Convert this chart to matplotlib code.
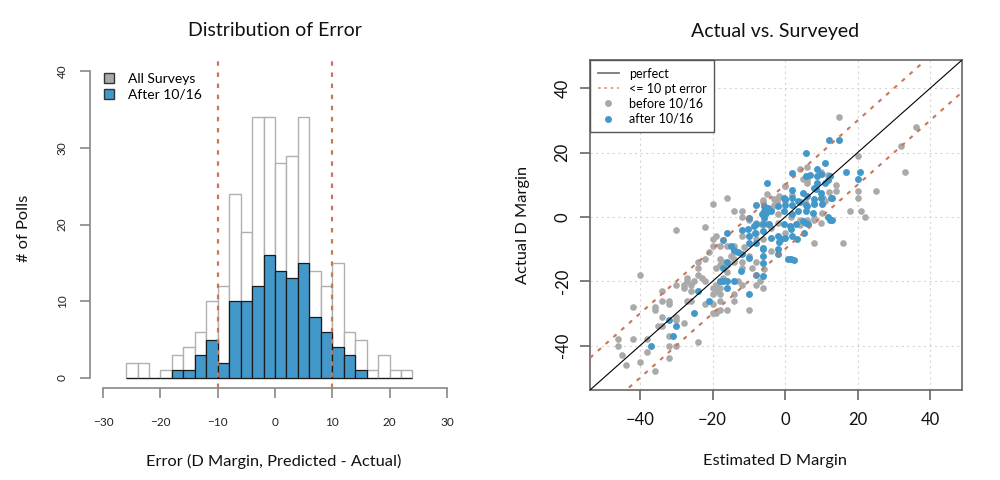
import matplotlib
matplotlib.use("Agg")
import matplotlib.pyplot as plt
import numpy as np
from matplotlib.patches import Patch
from matplotlib.lines import Line2D

plt.rcParams['font.family'] = ['Lato', 'DejaVu Sans']

# ---------------- data ----------------
bin_edges = list(range(-26, 25, 2))
all_counts = [2, 2, 0, 1, 3, 4, 6, 10, 12, 24, 19, 34, 34, 28, 29, 34, 14, 12, 15, 6, 5, 1, 3, 1, 1]
after_counts = [0, 0, 0, 0, 1, 1, 3, 5, 2, 10, 10, 12, 16, 14, 13, 15, 8, 6, 4, 3, 1, 0, 0, 0, 0]

before_x = [-46, -46, -45, -44, -42, -40, -38, -38, -36, -42, -40, -36, -36, -34, -34, -32, -32, -34, -30, -30,
            -35, -34, -32, -32, -30, -32, -28, -24, -30, -28, -28, -27, -27, -26, -26, -27, -26, -30, -24, -24,
            -23, -22, -25, -22, -20, -19, -20, -19, -18, -19, -18, -19, -17, -20, -22, -16, -14, -12, -12, -18,
            -19, -20, -21, -22, -24, -20, -15, -14, -14, -12, -18, -16, -20, -20, -18, -18, -14, -14, -16, -17,
            -16, -13, -12, -10, -10, -14, -14, -16, -12, -10, -10, -12, -18,
            -8, -8, -6, -8, -8, -6, -6, -4, -2, -2, 0, 2, 4, 4, 6, 8, 8, 4, 6, 5,
            6, 10.3, 14, 14, 10.5, 0, 5.6, 10.3, -2, -2.3, -5, -6, -3, -8, 8, 10, -6.5, -5.7, -10, -11.3,
            0, -4, -5, -4, -1.8, -3, 1.5, -9, -7,
            15, 36, 32, 33, 20, 20, 20, 25, 18, 21, 22, 16, 8, 11.8, 10, 12, 0, 6.1, 10.9, 4]
before_y = [-38, -40, -43, -46, -38, -45, -38, -42, -48, -28, -18, -28, -29, -23, -26, -26, -27, -31, -31, -32,
            -34, -34, -37, -40, -40, -44, -33, -39, -21, -21, -22, -19, -20, -21, -23, -26, -26, -4, -14, -16,
            -19, -20, -20, -27, -24, -23, -30, -30, -29, -21, -22, -16, -14, 4, -3, 6, 2, 2, 0, -9,
            -6, -9, -11, -13, -18, -7, -12, -13, -14, -16, -15, -15, -22, -27, -26, -24, -26, -24, -29, -19,
            -17, -20, -21, -29, -12, -11, -9, -9, -6, -6, -1, -14, -13,
            -14, -21, -22, -5, -7, -7, 4.5, 2.5, -2, 1, 5, 6.8, -1, -2.5, -1, -0.4, 4.3, 15, 15.4, 11.7,
            10.7, 13.5, 10, 8, 6, 9.7, 5, 1.3, 6, 4.5, 7, 5.2, 3.7, -2, -1, -2, -2.3, -16.3, -0.2, -9.2,
            -4.9, -3.3, -2.3, -10.6, 6.5, 5.5, 0, -16, -20,
            31, 28, 22, 14, 19, 8, 6, 8, 2, 2, 0, -8, -8, 13, 14, 7.9, 9.7, 11.5, 5, -1.2]

after_x = [-37, -32, -30, -31, -25, -24, -21, -18, -17, -17, -16, -16, -10, -14,
           -8, -6, -16, -14, -13, -12, -15, -17, -16, -12, -10.3, -8.5, -8.3, -10, -10, -8, -6, -9.9, -12.2,
           -6.2, -6, -6, -2, -1.9, 1.7, 0.9, 2.4,
           -8, -6, -6, -4, -2, 0, 1.7, 3.1, 4.9, 6.3, 5.2, 3.3, 1.9, -1.6, -1.1, -4.4, -0.4, 1.4, 5.8, 12.3,
           13, 11.8,
           -8, -5.6, -3.9, -5.9, -4.6, 0, 1.9, 4, 5.9, 6, 1.9, 0.1, -5, -5.7, -5.3, -6.4, -10, -5.7, -2, -0.2,
           1.9,
           5.8, 10.9, 8.9, 1.9, 5.8, 8.9, 12.3, 11.9, 11, 8.9, 8.6, 12.8, 10, 4.9, 1.9, -0.2, 3.5, 7.9, 6, 8.1,
           10.3, 7.6, 3.5, 5.8, 8, 9.8, 13,
           12, 15, 16.9, 20.8, 20, 9.8, 7]
after_y = [-40, -32, -34, -37, -30, -23, -26, -20, -20, -16, -22, -20, -24, -20,
           -18, -18.4, -14, -10.3, -11, -11.4, -9, -7.3, -5, -4, -3.8, -2.8, -4.9, -6, -8, -8, -9.6, -12.7, -16.8,
           -10.1, -12.1, -14.3, -10.1, -11.4, -13.2, -13.2, -13.4,
           -2.3, -2.2, -4.4, -6.4, -5.9, -6.4, -3.8, -2.3, -1.2, -2.3, -4.9, -7, -5.9, -7.7, -7, -2.1, -2.1, -2.8, -1.8, -1,
           -0.8, 0,
           3.8, 0.8, 1.7, 1.7, 2.9, 3.7, 3.7, 4.8, 3.7, 6.5, 6, 5.5, 10.7, 3.4, 1.3, 0.8, -0.2, -0.2, 3.4, 1.9,
           0.8,
           20, 16.7, 14.8, 13.8, 12.8, 12.8, 12.8, 11.4, 10.7, 10.7, 8.6, 6, 7.6, 7.6, 8.3, 6, 5, 5.5, 3.4, 3.9,
           3.9, 1.3, 1.9, 1.9, 9.1, 6, 5.8,
           24, 24, 14, 14, 11.8, 13.4, 13.1]

hist_xticks = [-30, -20, -10, 0, 10, 20, 30]
hist_yticks = [0, 10, 20, 30, 40]
sc_ticks = [-40, -20, 0, 20, 40]

# ---------------- style ----------------
BLUE = '#4398ca'
GREY_PT = '#aaaaaa'
RUST = '#c8785a'
AXC = '#888888'

W, H = 1000, 480
fig = plt.figure(figsize=(W / 100, H / 100), dpi=100)


def fx(px):
    return px / W


def fy(py):
    return 1 - py / H


# ---------------- left: histogram ----------------
ax1 = fig.add_axes([fx(90), fy(388), fx(460) - fx(90), fy(59) - fy(388)])
lefts = np.array(bin_edges[:-1])
widths = np.diff(bin_edges)
ax1.bar(lefts, all_counts, width=widths, align='edge', facecolor='white',
        edgecolor='#b0b0b0', linewidth=1.0, zorder=2)
ax1.bar(lefts, after_counts, width=widths, align='edge', facecolor=BLUE,
        edgecolor='#1a1a1a', linewidth=0.9, zorder=3)
ax1.axvline(-10, color=RUST, linestyle=(0, (2, 3)), linewidth=1.6, zorder=4)
ax1.axvline(10, color=RUST, linestyle=(0, (2, 3)), linewidth=1.6, zorder=4)
ax1.set_xlim(-32.3, 32.3)
ax1.set_ylim(-1.3, 41.6)
for s in ['top', 'right']:
    ax1.spines[s].set_visible(False)
ax1.spines['left'].set_bounds(0, 40)
ax1.spines['bottom'].set_bounds(-30, 30)
for s in ['left', 'bottom']:
    ax1.spines[s].set_color(AXC)
    ax1.spines[s].set_linewidth(1.2)
ax1.set_xticks(hist_xticks)
ax1.set_yticks(hist_yticks)
ax1.set_yticklabels([str(v) for v in hist_yticks], rotation=90, va='center')
ax1.tick_params(axis='both', direction='out', length=7, width=1.2, color=AXC,
                labelsize=8.5, labelcolor='#222222')
ax1.tick_params(axis='x', pad=14)
ax1.tick_params(axis='y', pad=9)
leg1 = ax1.legend(handles=[Patch(facecolor='#aaaaaa', edgecolor='#333333', label='All Surveys'),
                           Patch(facecolor=BLUE, edgecolor='#333333', label='After 10/16')],
                  loc='upper left', bbox_to_anchor=(0.022, 0.975), frameon=False,
                  fontsize=10, handlelength=0.75, handleheight=0.75, handletextpad=1.0,
                  labelspacing=0.3, borderaxespad=0)

# ---------------- right: scatter ----------------
ax2 = fig.add_axes([fx(590), fy(390), fx(962) - fx(590), fy(60) - fy(390)])
lim = (-53.8, 48.8)
ax2.set_xlim(lim)
ax2.set_ylim(lim)
ax2.set_xticks(sc_ticks)
ax2.set_yticks(sc_ticks)
ax2.set_yticklabels([str(v) for v in sc_ticks], rotation=90, va='center')
ax2.grid(True, color='#d6d6d6', linestyle=(0, (2, 3)), linewidth=0.8, zorder=0)
ax2.scatter(before_x, before_y, s=23, color=GREY_PT, linewidths=0, zorder=2)
ax2.scatter(after_x, after_y, s=25, color=BLUE, linewidths=0, zorder=3)
ref = np.array(lim)
ax2.plot(ref, ref, color='black', linewidth=0.8, zorder=4)
ax2.plot(ref, ref + 10, color=RUST, linestyle=(0, (2, 3)), linewidth=1.5, zorder=4)
ax2.plot(ref, ref - 10, color=RUST, linestyle=(0, (2, 3)), linewidth=1.5, zorder=4)
for s in ax2.spines.values():
    s.set_color('#666666')
    s.set_linewidth(1.2)
ax2.tick_params(axis='both', direction='out', length=7, width=1.2, color='#666666',
                labelsize=12, labelcolor='#111111')
ax2.tick_params(axis='x', pad=9)
ax2.tick_params(axis='y', pad=7)
leg2 = ax2.legend(handles=[Line2D([], [], color='#777777', linewidth=1.3, label='perfect'),
                           Line2D([], [], color='#d9a08a', linestyle=(0, (1.5, 2)), linewidth=1.3,
                                  label='<= 10 pt error'),
                           Line2D([], [], color=GREY_PT, marker='o', linestyle='none', markersize=4,
                                  label='before 10/16'),
                           Line2D([], [], color=BLUE, marker='o', linestyle='none', markersize=4,
                                  label='after 10/16')],
                  loc='upper left', bbox_to_anchor=(0, 1), borderaxespad=0, fancybox=False,
                  edgecolor='#555555', framealpha=1, fontsize=9, handlelength=1.7,
                  handletextpad=0.8, labelspacing=0.25, borderpad=0.6)
leg2.get_frame().set_linewidth(1.0)

# ---------------- text ----------------
fig.text(fx(275), fy(31), 'Distribution of Error', ha='center', va='center', fontsize=14, color='#111111')
fig.text(fx(775), fy(31), 'Actual vs. Surveyed', ha='center', va='center', fontsize=14, color='#111111')
fig.text(fx(274), fy(461), 'Error (D Margin, Predicted - Actual)', ha='center', va='center',
         fontsize=11.8, color='#111111')
fig.text(fx(775), fy(461), 'Estimated D Margin', ha='center', va='center', fontsize=11.8, color='#111111')
fig.text(fx(24), fy(228), '# of Polls', ha='center', va='center', rotation=90, fontsize=11.8, color='#111111')
fig.text(fx(523), fy(225), 'Actual D Margin', ha='center', va='center', rotation=90, fontsize=11.8,
         color='#111111')

fig.savefig('out.png', dpi=100)
